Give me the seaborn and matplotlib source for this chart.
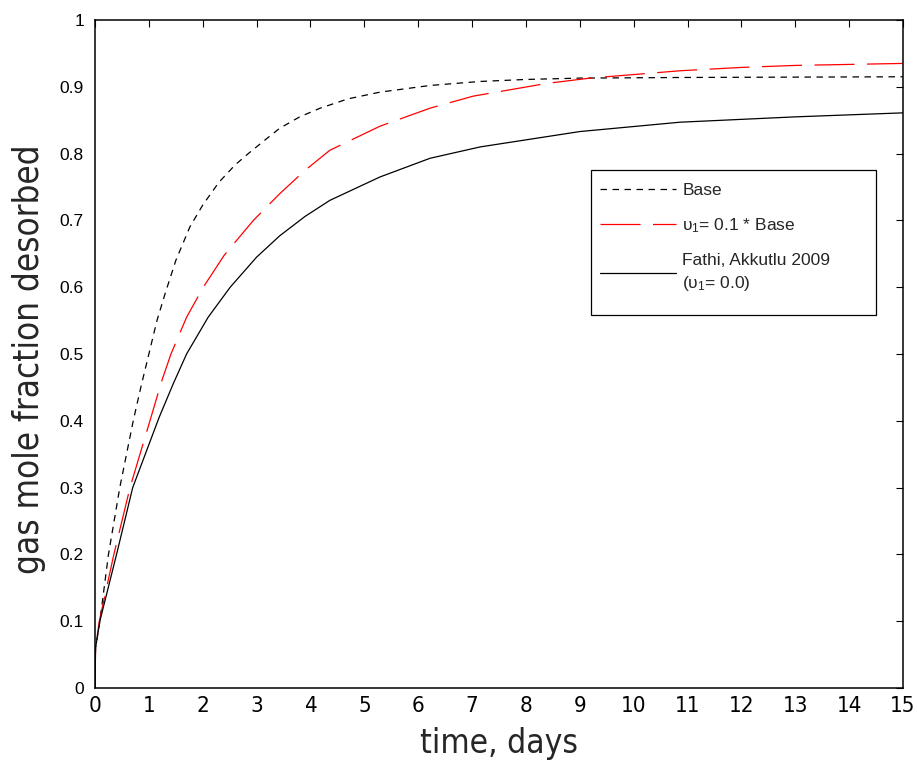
import matplotlib
matplotlib.use("Agg")
import matplotlib.pyplot as plt
import seaborn as sns
import pandas as pd
from matplotlib import font_manager
from matplotlib.font_manager import FontProperties
from matplotlib.patches import Rectangle

# ---- data ----
t_base = [0, 0.01, 0.09, 0.25, 0.46, 0.71, 0.85, 1.0, 1.15, 1.3, 1.5, 1.76, 2.0, 2.3, 2.6, 2.86, 3.15, 3.43, 3.8, 4.18, 4.7, 5.29, 6.22, 7.15, 8.0, 9.0, 11.0, 15.0]
y_base = [0, 0.06, 0.10, 0.20, 0.30, 0.40, 0.45, 0.50, 0.55, 0.59, 0.64, 0.69, 0.723, 0.757, 0.783, 0.801, 0.82, 0.838, 0.855, 0.868, 0.882, 0.892, 0.902, 0.908, 0.911, 0.913, 0.914, 0.915]

t_red = [0, 0.01, 0.08, 0.35, 0.65, 1.02, 1.24, 1.41, 1.7, 2.01, 2.4, 2.94, 3.43, 3.9, 4.36, 5.29, 6.22, 7.02, 8.38, 9.19, 10.86, 12.0, 13.0, 15.0]
y_red = [0, 0.06, 0.10, 0.20, 0.30, 0.40, 0.46, 0.50, 0.555, 0.60, 0.648, 0.70, 0.74, 0.775, 0.805, 0.841, 0.868, 0.886, 0.905, 0.913, 0.924, 0.929, 0.932, 0.935]

t_fa = [0, 0.01, 0.09, 0.40, 0.70, 1.19, 1.45, 1.70, 2.1, 2.51, 3.0, 3.43, 3.9, 4.36, 5.29, 6.22, 7.15, 9.0, 10.86, 13.0, 15.0]
y_fa = [0, 0.06, 0.10, 0.20, 0.30, 0.405, 0.455, 0.50, 0.555, 0.60, 0.645, 0.677, 0.706, 0.73, 0.765, 0.793, 0.81, 0.833, 0.847, 0.855, 0.861]

labels = ["Base", "υ$_1$= 0.1 * Base", "Fathi, Akkutlu 2009\n(υ$_1$= 0.0)"]
x_ticks = list(range(0, 16))
y_ticks = [0, 0.1, 0.2, 0.3, 0.4, 0.5, 0.6, 0.7, 0.8, 0.9, 1.0]
y_ticklabels = ["0", "0.1", "0.2", "0.3", "0.4", "0.5", "0.6", "0.7", "0.8", "0.9", "1"]

sns.set_theme(style="white")
plt.rcParams["font.family"] = ["Liberation Sans", "DejaVu Sans"]
plt.rcParams["mathtext.fontset"] = "custom"
plt.rcParams["mathtext.rm"] = "Liberation Sans"
plt.rcParams["mathtext.it"] = "Liberation Sans"
plt.rcParams["mathtext.bf"] = "Liberation Sans"

# look for a narrow / condensed sans font for axis text
narrow = None
for f in font_manager.fontManager.ttflist:
    nm = f.name.lower()
    fn = f.fname.lower()
    if ("serif" in nm and "sans" not in nm) or "mono" in nm or "bold" in fn or "italic" in fn or "oblique" in fn:
        continue
    if f.weight not in (400, "normal", "regular", "book"):
        continue
    if "narrow" in nm or "condensed" in nm or "narrow" in fn or "condensed" in fn or str(f.stretch) in ("condensed", "semi-condensed"):
        narrow = f.fname
        break

if narrow:
    fp_xt = FontProperties(fname=narrow, size=16)
    fp_xl = FontProperties(fname=narrow, size=24)
    fp_yl = FontProperties(fname=narrow, size=25)
else:
    fp_xt = FontProperties(family="Liberation Sans", size=14)
    fp_xl = FontProperties(family="Liberation Sans", size=22)
    fp_yl = FontProperties(family="Liberation Sans", size=22)

fig = plt.figure(figsize=(9.17, 7.67), dpi=100)
ax = fig.add_axes([95/917, 1-688/767, (903-95)/917, (688-20)/767])

df_b = pd.DataFrame({"t": t_base, "y": y_base})
df_r = pd.DataFrame({"t": t_red, "y": y_red})
df_f = pd.DataFrame({"t": t_fa, "y": y_fa})

sns.lineplot(data=df_b, x="t", y="y", ax=ax, color="black", lw=0.9, label=labels[0], estimator=None, sort=False)
sns.lineplot(data=df_r, x="t", y="y", ax=ax, color="red", lw=0.9, label=labels[1], estimator=None, sort=False)
sns.lineplot(data=df_f, x="t", y="y", ax=ax, color="black", lw=0.9, label=labels[2], estimator=None, sort=False)
lines = ax.get_lines()
lines[0].set_dashes([5.2, 4.4])
lines[1].set_dashes([32, 10])

ax.set_xlim(0, 15)
ax.set_ylim(0, 1)
ax.set_xticks(x_ticks)
ax.set_xticklabels([str(v) for v in x_ticks], fontproperties=fp_xt)
ax.set_yticks(y_ticks)
ax.set_yticklabels(y_ticklabels, fontsize=12.5)
ax.tick_params(direction="in", length=5, width=0.8, top=True, right=True, colors="black")
ax.tick_params(axis="x", pad=6)
ax.tick_params(axis="y", pad=8)
for s in ax.spines.values():
    s.set_color("black")
    s.set_linewidth(1.1)
    s.set_visible(True)

ax.set_xlabel("time, days", fontproperties=fp_xl, labelpad=8)
ax.set_ylabel("gas mole fraction desorbed", fontproperties=fp_yl, labelpad=6)
ax.yaxis.set_label_coords(-0.061, (688 - 359) / 668)

# legend frame (MATLAB-style wide box)
x0, x1 = (591 - 95) / 808, (876 - 95) / 808
y0, y1 = (688 - 315) / 668, (688 - 170) / 668
ax.add_patch(Rectangle((x0, y0), x1 - x0, y1 - y0, transform=ax.transAxes,
                       facecolor="white", edgecolor="black", lw=0.9, zorder=4))
leg = ax.legend(loc="upper left", bbox_to_anchor=((600 - 95) / 808, (688 - 183) / 668),
                fontsize=12.5, frameon=False, handlelength=4.4,
                handletextpad=0.35, borderaxespad=0, labelspacing=1.05, borderpad=0)
leg.set_zorder(5)
leg.get_texts()[2].set_linespacing(1.4)

fig.savefig("out.png", dpi=100, facecolor="white")
